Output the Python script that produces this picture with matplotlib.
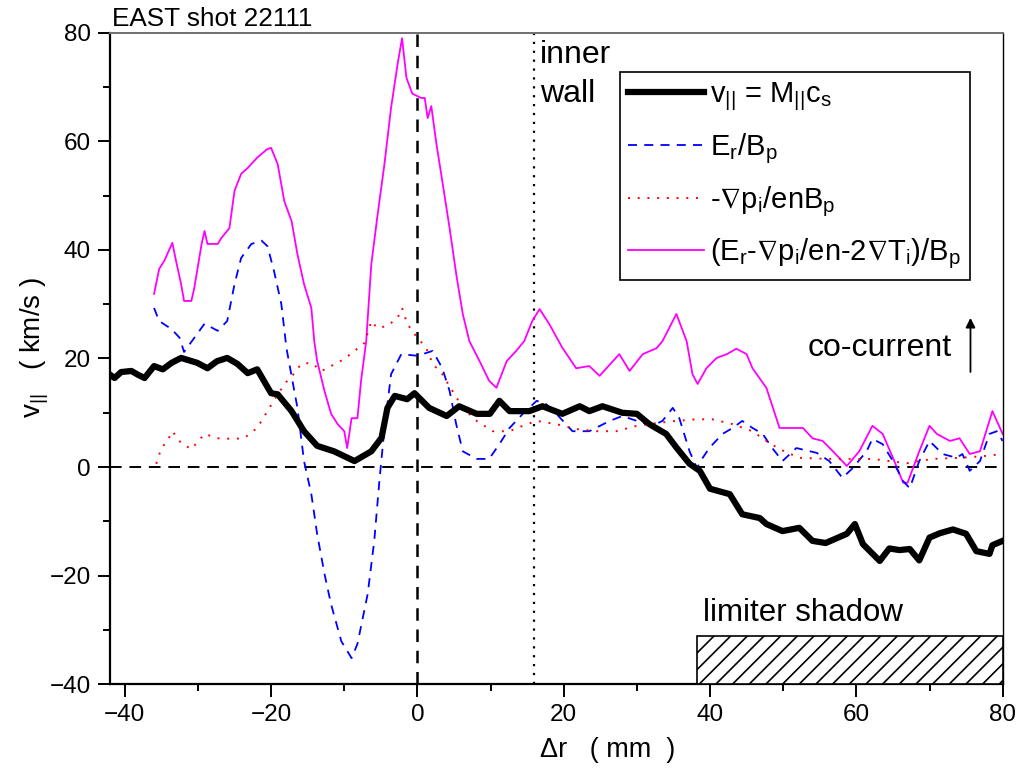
import matplotlib
matplotlib.use("Agg")
import matplotlib.pyplot as plt
from matplotlib.patches import Rectangle

plt.rcParams['font.family'] = ['Liberation Sans', 'DejaVu Sans']
plt.rcParams['mathtext.fontset'] = 'custom'
plt.rcParams['mathtext.rm'] = 'Liberation Sans'
plt.rcParams['mathtext.it'] = 'Liberation Sans'
plt.rcParams['mathtext.default'] = 'regular'
plt.rcParams['hatch.linewidth'] = 1.2

# ---- data ----
v_par_x = [-42, -41.4, -40.5, -39.1, -38.2, -37.3, -36, -34.8, -33.6, -32.3, -30.1, -28.7, -27.4, -26,
           -24.6, -23.2, -21.9, -20, -19.1, -17.2, -15.5, -13.7, -11.4, -8.6, -6.3, -4.9, -4.1, -3.1,
           -1.4, -0.4, 1.6, 4.0, 5.7, 8.1, 9.9, 11.2, 12.6, 15.3, 17.1, 19.8, 22.2, 23.5, 25.3, 28,
           30, 31.7, 34, 35.4, 37.2, 38.6, 40, 42.7, 44.4, 46.8, 47.7, 49.9, 52.2, 54, 55.8, 58.7,
           59.8, 60.9, 63.2, 64.5, 65.9, 67.3, 68.6, 70, 71.4, 73.2, 75, 76.4, 78.2, 78.6, 80]
v_par_y = [17.0, 16.4, 17.5, 17.7, 17.0, 16.4, 18.6, 18.0, 19.2, 20.1, 19.2, 18.2, 19.5, 20.1,
           19.0, 17.3, 18.0, 13.6, 13.4, 10.3, 6.6, 3.9, 2.9, 1.1, 2.9, 5.4, 10.9, 13.1,
           12.5, 13.6, 10.9, 9.4, 11.2, 9.8, 9.8, 12.2, 10.3, 10.3, 11.2, 9.8, 11.2, 10.3, 11.2, 10.0,
           9.8, 7.9, 6.1, 3.6, 0.6, -0.7, -4.0, -5.0, -8.7, -9.4, -10.5, -11.8, -11.2, -13.6, -14.0, -12.3,
           -10.5, -14.2, -17.3, -15.0, -15.3, -15.1, -17.2, -13.0, -12.2, -11.5, -12.3, -15.5, -16.0, -14.4, -13.6]

erbp_x = [-36, -35.3, -33.6, -32.5, -31.9, -30.5, -29.1, -27.3, -26, -25, -24.1, -22.7, -21.3, -20.5,
          -19.6, -18.6, -17.9, -16.4, -15.5, -14.5, -13.7, -12.7, -11.8, -10.4, -9.0, -8.2, -6.8,
          -5.9, -5.2, -4.5, -3.6, -2.2, 0, 2.1, 3.4, 4.4, 5.3, 6.2, 8.1, 9.8, 11.2, 12.6, 14.4, 16.3,
          17.6, 19.0, 21.2, 23.5, 26.3, 28, 30, 32.1, 33.5, 34.9, 35.8, 37.2, 38.2, 39.0, 39.9, 41.7,
          43.1, 44.4, 45.8, 47.2, 48.5, 49.9, 51.8, 54.6, 56.3, 58.1, 59.5, 61.4, 62.2, 63.6, 65.0,
          66.4, 67.3, 68.6, 70.0, 71.8, 73.7, 74.5, 75.5, 76.9, 78.2, 79.2, 80]
erbp_y = [29.3, 26.9, 25.4, 23.8, 21.2, 23.8, 26.4, 25.1, 26.9, 33.7, 38.5, 41.1, 41.7, 40.7,
          36.1, 30.0, 21.9, 10.9, 1.1, -5.0, -12.4, -19.7, -25.3, -32.1, -35.2, -32.6, -23.4,
          -13.6, -2.6, 7.2, 17.1, 20.8, 20.5, 21.4, 18.2, 14.0, 7.9, 2.9, 1.5, 1.5, 4.2, 7.2, 9.8, 12.2,
          11.6, 9.8, 6.6, 6.6, 8.5, 9.4, 8.5, 7.6, 8.5, 10.9, 9.0, 2.9, -0.2, 1.7, 3.5, 6.1,
          7.2, 8.5, 7.2, 6.1, 3.5, 1.1, 3.5, 2.6, 1.1, -2.0, -0.2, 2.9, 5.2, 4.2, 1.1,
          -2.6, -3.9, 1.1, 4.8, 2.4, 1.7, 2.4, -0.7, 1.1, 6.1, 6.6, 4.8]

gradp_x = [-35.7, -35, -34.2, -33.5, -32.3, -30.9, -29.1, -27.3, -25.4, -23.7, -21.9, -20.5, -19.1,
           -17.8, -16.8, -15.9, -14.5, -13.1, -11.8, -10, -8.6, -7.2, -6.3, -5.5, -4.1, -2.7, -2.1,
           -1.4, -0.4, 1.2, 2.1, 3.4, 4.8, 6.2, 8.1, 10.3, 12.6, 14.4, 16.3, 19.0, 21.7, 24.5, 27.2,
           30, 32.7, 35.4, 38.2, 40.3, 43.1, 45.8, 47.7, 49.5, 52.2, 55.9, 58.7, 62.2, 66.9, 70.4,
           74.1, 77.3, 80]
gradp_y = [0.6, 3.5, 4.8, 6.6, 4.4, 3.3, 6.1, 5.3, 5.2, 5.3, 7.2, 10.3, 13.4,
           15.9, 17.3, 19.0, 19.2, 17.7, 18.6, 19.9, 21.4, 22.9, 26.9, 25.6, 26.0, 27.5, 29.3,
           26.4, 24.5, 21.9, 19.0, 17.1, 14.0, 10.9, 8.5, 6.6, 6.6, 7.6, 8.5, 7.9, 7.0, 6.6, 6.6,
           7.6, 8.1, 8.5, 8.8, 8.8, 7.9, 6.6, 4.8, 3.3, 1.7, 1.5, 1.5, 1.5, 0.7, 1.5,
           1.7, 2.0, 2.4]

total_x = [-36, -35.3, -34.6, -33.5, -33, -32.3, -31.9, -30.9, -30.5, -29.5, -29.1, -28.7, -27.3,
           -26.8, -25.7, -25, -24.1, -23.2, -21.9, -20.5, -20, -19.1, -18.2, -17.2, -16.4, -15.5,
           -14.5, -14.1, -13.7, -12.7, -11.8, -10.9, -10, -9.6, -9, -8.2, -7.7, -7.0, -6.3, -5.5,
           -4.5, -3.6, -2.7, -2.1, -1.5, -0.7, 0.5, 1.0, 1.4, 1.9, 2.6, 3.4, 4.4, 5.3, 6.2, 7.1,
           8.5, 9.8, 10.8, 12.2, 13.5, 14.6, 15.7, 16.7, 18.0, 19.8, 21.7, 23.5, 24.9, 27.6, 29.0,
           30.8, 32.7, 33.5, 35.4, 36.8, 37.6, 38.3, 39.5, 40.9, 42.3, 43.6, 45.0, 45.8, 47.7, 49.5,
           50.9, 52.7, 54.0, 55.4, 56.8, 58.7, 60.4, 62.2, 63.6, 65.0, 66.4, 67.0, 68.6, 70.0, 71.0,
           72.8, 74.1, 75.5, 76.9, 78.6, 80]
total_y = [31.9, 36.5, 38.0, 41.3, 38.0, 33.7, 30.6, 30.6, 33.0, 41.1, 43.5, 41.1, 41.1,
           42.2, 44.0, 50.9, 54.0, 55.1, 57.0, 58.6, 58.8, 55.8, 49.0, 45.3, 39.2, 33.7,
           29.3, 23.2, 19.5, 14.0, 9.8, 7.9, 6.6, 3.5, 9.0, 9.0, 15.9, 23.2, 37.4, 45.9,
           55.9, 66.2, 74.3, 79.0, 71.7, 68.8, 68.0, 68.0, 64.3, 66.5, 59.5, 52.7, 44.0, 35.6, 28.2, 23.2,
           19.5, 15.9, 14.6, 19.5, 21.4, 23.2, 26.9, 29.1, 26.4, 22.0, 18.2, 18.6, 16.8, 20.8, 17.7,
           20.8, 21.9, 23.2, 28.2, 23.2, 17.1, 15.3, 18.2, 20.1, 20.8, 21.8, 20.8, 18.2, 14.6, 7.2,
           7.2, 7.2, 5.3, 4.8, 2.9, 0.2, 2.9, 7.6, 6.1, 1.7, -2.9, -2.9, 2.9, 7.6, 6.1,
           4.8, 5.3, 2.4, 2.9, 10.3, 6.1]

labels = [r'v$_{||}$ = M$_{||}$c$_s$', r'E$_r$/B$_p$', r'-$\nabla$p$_i$/enB$_p$',
          r'(E$_r$-$\nabla$p$_i$/en-2$\nabla$T$_i$)/B$_p$']

xticks = [-40, -20, 0, 20, 40, 60, 80]
yticks = [-40, -20, 0, 20, 40, 60, 80]

# ---- figure ----
fig = plt.figure(figsize=(10.2, 7.81), dpi=100)
ax = fig.add_axes([0.108, 0.124, 0.875, 0.834])

ax.axhline(0, color='black', lw=1.4, ls=(0, (6, 4)), zorder=1)
ax.axvline(0, color='black', lw=1.8, ls=(0, (5, 3.5)), zorder=1)
ax.axvline(16, color='black', lw=1.6, ls=(0, (1, 3)), zorder=1)

l1, = ax.plot(v_par_x, v_par_y, color='black', lw=4.5, zorder=5, solid_joinstyle='round')
l2, = ax.plot(erbp_x, erbp_y, color='#0000ff', lw=1.3, ls=(0, (5, 4)), zorder=3)
l3, = ax.plot(gradp_x, gradp_y, color='#ff0000', lw=1.4, ls=(0, (1, 4)), zorder=3)
l4, = ax.plot(total_x, total_y, color='#ff00ff', lw=1.3, zorder=2)

ax.add_patch(Rectangle((38.2, -40), 80 - 38.2, 8.8, facecolor='white', edgecolor='black',
                       hatch='//', lw=1.2, zorder=4))

ax.set_xlim(-42, 80)
ax.set_ylim(-40, 80)
ax.set_xticks(xticks)
ax.set_yticks(yticks)
ax.set_xticks(range(-30, 80, 20), minor=True)
ax.set_yticks(range(-30, 80, 20), minor=True)
ax.tick_params(which='major', direction='out', length=9, width=1.4, labelsize=17.5, pad=5)
ax.tick_params(which='minor', direction='out', length=5, width=1.4)
ax.tick_params(top=False, right=False, which='both')
for s in ['left', 'bottom']:
    ax.spines[s].set_linewidth(1.6)
ax.spines['top'].set_color('#707070')
ax.spines['top'].set_linewidth(1.4)
ax.spines['right'].set_linewidth(1.0)

fig.text(540 / 1020, 1 - 757 / 781, 'Δr   ( mm  )', fontsize=19.5, ha='left', va='baseline')
fig.text(0.034, 1 - 418 / 781, r'v$_{||}$   ( km/s )', fontsize=20, rotation=90,
         ha='center', va='bottom')

leg = ax.legend([l1, l2, l3, l4], labels, loc='upper right', bbox_to_anchor=(0.963, 0.940),
                fontsize=21, frameon=True, fancybox=False, edgecolor='black', framealpha=1,
                handlelength=2.6, handletextpad=0.2, labelspacing=0.62, borderpad=0.3,
                borderaxespad=0)
leg.get_frame().set_linewidth(1.2)

fig.text(0.110, 0.967, 'EAST shot 22111', fontsize=18.8, ha='left', va='baseline')
ax.text(16.7, 74.5, 'inner', fontsize=23, ha='left', va='baseline')
ax.text(16.7, 67.3, 'wall', fontsize=23, ha='left', va='baseline')
ax.text(53.3, 20.5, 'co-current', fontsize=23, ha='left', va='baseline')
ax.annotate('', xy=(75.6, 28.0), xytext=(75.6, 17.0),
            arrowprops=dict(arrowstyle='-|>', color='black', lw=1.3, mutation_scale=14))
ax.text(39.0, -28.4, 'limiter shadow', fontsize=22.5, ha='left', va='baseline')

fig.savefig('out.png', dpi=100)
